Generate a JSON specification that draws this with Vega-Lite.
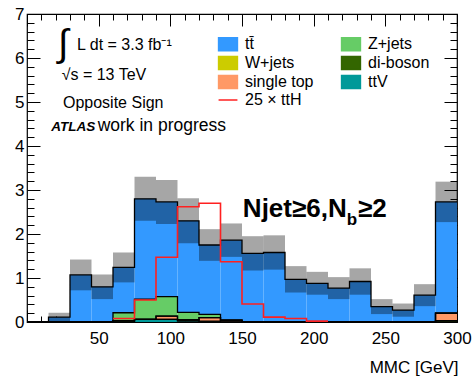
{
  "$schema": "https://vega.github.io/schema/vega-lite/v6.json",
  "autosize": {"type": "none"},
  "padding": {"left": 27, "top": 14, "right": 15, "bottom": 55},
  "width": 430,
  "height": 308,
  "background": "white",
  "config": {
    "view": {"stroke": "black", "strokeWidth": 1.2},
    "font": "Liberation Sans",
    "axis": {"labelFont": "Liberation Sans", "titleFont": "Liberation Sans", "labelColor": "black", "titleColor": "black", "tickColor": "black", "domain": false, "grid": false, "zindex": 1, "tickWidth": 1}
  },
  "datasets": {
    "bins": [
      {"lo": 0, "hi": 15, "ttbar": 0, "Zjets": 0, "Wjets": 0, "singletop": 0, "diboson": 0, "ttV": 0},
      {"lo": 15, "hi": 30, "ttbar": 0.11, "Zjets": 0, "Wjets": 0, "singletop": 0, "diboson": 0, "ttV": 0},
      {"lo": 30, "hi": 45, "ttbar": 1.07, "Zjets": 0, "Wjets": 0, "singletop": 0, "diboson": 0, "ttV": 0},
      {"lo": 45, "hi": 60, "ttbar": 0.79, "Zjets": 0, "Wjets": 0, "singletop": 0, "diboson": 0.01, "ttV": 0},
      {"lo": 60, "hi": 75, "ttbar": 1.03, "Zjets": 0.18, "Wjets": 0, "singletop": 0, "diboson": 0.03, "ttV": 0},
      {"lo": 75, "hi": 90, "ttbar": 2.28, "Zjets": 0.46, "Wjets": 0, "singletop": 0, "diboson": 0, "ttV": 0.06},
      {"lo": 90, "hi": 105, "ttbar": 2.155, "Zjets": 0.44, "Wjets": 0, "singletop": 0.075, "diboson": 0, "ttV": 0.06},
      {"lo": 105, "hi": 120, "ttbar": 2.08, "Zjets": 0.17, "Wjets": 0, "singletop": 0, "diboson": 0.03, "ttV": 0.02},
      {"lo": 120, "hi": 135, "ttbar": 1.575, "Zjets": 0.075, "Wjets": 0, "singletop": 0.08, "diboson": 0.02, "ttV": 0},
      {"lo": 135, "hi": 150, "ttbar": 1.82, "Zjets": 0, "Wjets": 0, "singletop": 0.04, "diboson": 0, "ttV": 0},
      {"lo": 150, "hi": 165, "ttbar": 1.55, "Zjets": 0, "Wjets": 0, "singletop": 0, "diboson": 0.01, "ttV": 0},
      {"lo": 165, "hi": 180, "ttbar": 1.58, "Zjets": 0, "Wjets": 0, "singletop": 0, "diboson": 0, "ttV": 0},
      {"lo": 180, "hi": 195, "ttbar": 0.97, "Zjets": 0, "Wjets": 0, "singletop": 0, "diboson": 0, "ttV": 0},
      {"lo": 195, "hi": 210, "ttbar": 0.88, "Zjets": 0, "Wjets": 0, "singletop": 0, "diboson": 0, "ttV": 0},
      {"lo": 210, "hi": 225, "ttbar": 0.77, "Zjets": 0, "Wjets": 0, "singletop": 0, "diboson": 0, "ttV": 0},
      {"lo": 225, "hi": 240, "ttbar": 0.92, "Zjets": 0, "Wjets": 0, "singletop": 0, "diboson": 0, "ttV": 0},
      {"lo": 240, "hi": 255, "ttbar": 0.35, "Zjets": 0, "Wjets": 0, "singletop": 0, "diboson": 0, "ttV": 0},
      {"lo": 255, "hi": 270, "ttbar": 0.27, "Zjets": 0, "Wjets": 0, "singletop": 0, "diboson": 0, "ttV": 0},
      {"lo": 270, "hi": 285, "ttbar": 0.61, "Zjets": 0, "Wjets": 0, "singletop": 0, "diboson": 0, "ttV": 0},
      {"lo": 285, "hi": 300, "ttbar": 2.53, "Zjets": 0, "Wjets": 0, "singletop": 0.17, "diboson": 0.03, "ttV": 0},
      {"lo": 300, "hi": 300, "ttbar": 2.53, "Zjets": 0, "Wjets": 0, "singletop": 0.17, "diboson": 0.03, "ttV": 0}
    ],
    "procs": [
      {"key": "ttV", "label": "ttV", "rank": 1},
      {"key": "diboson", "label": "di-boson", "rank": 2},
      {"key": "singletop", "label": "single top", "rank": 3},
      {"key": "Wjets", "label": "W+jets", "rank": 4},
      {"key": "Zjets", "label": "Z+jets", "rank": 5},
      {"key": "ttbar", "label": "tt\u0304", "rank": 6}
    ],
    "band": [
      {"lo": 15, "hi": 30, "low": 0.01, "high": 0.21},
      {"lo": 30, "hi": 45, "low": 0.72, "high": 1.42},
      {"lo": 45, "hi": 60, "low": 0.52, "high": 1.08},
      {"lo": 60, "hi": 75, "low": 0.90, "high": 1.58},
      {"lo": 75, "hi": 90, "low": 2.30, "high": 3.30},
      {"lo": 90, "hi": 105, "low": 2.23, "high": 3.23},
      {"lo": 105, "hi": 120, "low": 1.79, "high": 2.81},
      {"lo": 120, "hi": 135, "low": 1.39, "high": 2.11},
      {"lo": 135, "hi": 150, "low": 1.48, "high": 2.24},
      {"lo": 150, "hi": 165, "low": 1.17, "high": 1.95},
      {"lo": 165, "hi": 180, "low": 1.19, "high": 1.97},
      {"lo": 180, "hi": 195, "low": 0.67, "high": 1.27},
      {"lo": 195, "hi": 210, "low": 0.62, "high": 1.14},
      {"lo": 210, "hi": 225, "low": 0.52, "high": 1.02},
      {"lo": 225, "hi": 240, "low": 0.62, "high": 1.22},
      {"lo": 240, "hi": 255, "low": 0.18, "high": 0.52},
      {"lo": 255, "hi": 270, "low": 0.12, "high": 0.42},
      {"lo": 270, "hi": 285, "low": 0.36, "high": 0.86},
      {"lo": 285, "hi": 300, "low": 2.27, "high": 3.19}
    ],
    "tth": [
      {"lo": 60, "value": 0.08, "label": "25 × ttH"},
      {"lo": 75, "value": 0.5, "label": "25 × ttH"},
      {"lo": 90, "value": 1.47, "label": "25 × ttH"},
      {"lo": 105, "value": 2.62, "label": "25 × ttH"},
      {"lo": 120, "value": 2.70, "label": "25 × ttH"},
      {"lo": 135, "value": 1.37, "label": "25 × ttH"},
      {"lo": 150, "value": 0.41, "label": "25 × ttH"},
      {"lo": 165, "value": 0.11, "label": "25 × ttH"},
      {"lo": 180, "value": 0.08, "label": "25 × ttH"},
      {"lo": 195, "value": 0.02, "label": "25 × ttH"},
      {"lo": 210, "value": 0.02, "label": "25 × ttH"}
    ]
  },
  "resolve": {"axis": {"x": "independent", "y": "independent"}},
  "layer": [
    {
      "data": {"name": "bins"},
      "transform": [
        {"fold": ["ttV", "diboson", "singletop", "Wjets", "Zjets", "ttbar"], "as": ["key", "value"]},
        {"lookup": "key", "from": {"data": {"name": "procs"}, "key": "key", "fields": ["label", "rank"]}},
        {"stack": "value", "groupby": ["lo"], "sort": [{"field": "rank", "order": "ascending"}], "as": ["v0", "v1"]}
      ],
      "mark": {"type": "rect"},
      "encoding": {
        "x": {"field": "lo", "type": "quantitative", "scale": {"domain": [0, 300], "nice": false, "zero": false},
          "axis": {"orient": "bottom", "values": [0,10,20,30,40,50,60,70,80,90,100,110,120,130,140,150,160,170,180,190,200,210,220,230,240,250,260,270,280,290,300],
            "labelExpr": "datum.value > 0 && datum.value % 50 === 0 ? datum.label : ''",
            "tickSize": {"condition": {"test": "datum.value % 50 === 0", "value": -12}, "value": -6},
            "labelFontSize": 17, "labelPadding": 20, "labelFlush": false, "labelOverlap": false,
            "title": "MMC [GeV]", "titleAnchor": "end", "titleAlign": "right", "titleBaseline": "alphabetic", "titleX": 431, "titleY": 50,
            "titleFontSize": 17, "titleFontWeight": "normal"}},
        "x2": {"field": "hi"},
        "y": {"field": "v1", "type": "quantitative", "scale": {"domain": [0, 7], "nice": false},
          "axis": {"orient": "left", "values": [0,0.2,0.4,0.6,0.8,1,1.2,1.4,1.6,1.8,2,2.2,2.4,2.6,2.8,3,3.2,3.4,3.6,3.8,4,4.2,4.4,4.6,4.8,5,5.2,5.4,5.6,5.8,6,6.2,6.4,6.6,6.8,7],
            "labelExpr": "abs(datum.value - round(datum.value)) < 0.001 ? format(datum.value, 'd') : ''",
            "tickSize": {"condition": {"test": "abs(datum.value - round(datum.value)) < 0.001", "value": -13}, "value": -7},
            "labelFontSize": 17, "labelPadding": 16, "labelOverlap": false, "labelFlush": false, "title": null}},
        "y2": {"field": "v0"},
        "color": {"field": "label", "type": "nominal",
          "scale": {"domain": ["tt\u0304", "W+jets", "single top", "25 × ttH", "Z+jets", "di-boson", "ttV"],
                    "range": ["#3399ff", "#cccc00", "#ff9966", "#ff2020", "#66cc66", "#336600", "#009999"]},
          "legend": {"orient": "none", "legendX": 193, "legendY": 22, "columns": 2, "title": null,
            "symbolSize": 169, "labelFontSize": 16, "labelFont": "Liberation Sans", "labelColor": "black",
            "labelOffset": 9, "rowPadding": -1, "columnPadding": 24, "padding": 0,
            "encode": {"symbols": {"update": {
              "shape": [{"test": "datum.value === '25 × ttH'", "value": "M-1.45,0H1.45"}, {"value": "M-1.45,-1H1.45V1H-1.45Z"}],
              "fill": [{"test": "datum.value === '25 × ttH'", "value": "transparent"}, {"scale": "color", "field": "value"}],
              "stroke": [{"test": "datum.value === '25 × ttH'", "value": "#ff2020"}, {"value": "black"}],
              "strokeWidth": {"value": 1.5},
              "opacity": {"value": 1},
              "fillOpacity": {"value": 1}
            }}}}
        }
      }
    },
    {
      "data": {"name": "bins"},
      "transform": [
        {"fold": ["ttV", "diboson", "singletop", "Wjets", "Zjets", "ttbar"], "as": ["key", "value"]},
        {"lookup": "key", "from": {"data": {"name": "procs"}, "key": "key", "fields": ["label", "rank"]}},
        {"stack": "value", "groupby": ["lo"], "sort": [{"field": "rank", "order": "ascending"}], "as": ["v0", "v1"]}
      ],
      "mark": {"type": "line", "interpolate": "step-after", "stroke": "black", "strokeWidth": 1.3},
      "encoding": {
        "x": {"field": "lo", "type": "quantitative", "axis": null},
        "y": {"field": "v1", "type": "quantitative", "axis": null},
        "detail": {"field": "key"}
      }
    },
    {
      "data": {"name": "band"},
      "mark": {"type": "rect", "fill": "black", "fillOpacity": 0.35},
      "encoding": {
        "x": {"field": "lo", "type": "quantitative",
          "axis": {"orient": "top", "values": [0,10,20,30,40,50,60,70,80,90,100,110,120,130,140,150,160,170,180,190,200,210,220,230,240,250,260,270,280,290,300],
            "labels": false, "title": null,
            "tickSize": {"condition": {"test": "datum.value % 50 === 0", "value": -12}, "value": -6}}},
        "x2": {"field": "hi"},
        "y": {"field": "low", "type": "quantitative",
          "axis": {"orient": "right", "values": [0,0.2,0.4,0.6,0.8,1,1.2,1.4,1.6,1.8,2,2.2,2.4,2.6,2.8,3,3.2,3.4,3.6,3.8,4,4.2,4.4,4.6,4.8,5,5.2,5.4,5.6,5.8,6,6.2,6.4,6.6,6.8,7],
            "labels": false, "title": null,
            "tickSize": {"condition": {"test": "abs(datum.value - round(datum.value)) < 0.001", "value": -13}, "value": -7}}},
        "y2": {"field": "high"}
      }
    },
    {
      "data": {"name": "tth"},
      "mark": {"type": "line", "interpolate": "step-after", "strokeWidth": 1.6},
      "encoding": {
        "x": {"field": "lo", "type": "quantitative", "axis": null},
        "y": {"field": "value", "type": "quantitative", "axis": null},
        "color": {"field": "label", "type": "nominal"}
      }
    },
    {
      "data": {"values": [{}]},
      "mark": {"type": "text", "font": "Liberation Sans", "fontSize": 38, "align": "center", "baseline": "middle", "color": "black"},
      "encoding": {"x": {"datum": 25.2, "type": "quantitative", "axis": null}, "y": {"datum": 6.3, "type": "quantitative", "axis": null}, "text": {"value": "∫"}}
    },
    {
      "data": {"values": [{}]},
      "mark": {"type": "text", "font": "Liberation Sans", "fontSize": 16, "align": "left", "baseline": "alphabetic", "color": "black"},
      "encoding": {"x": {"datum": 34.9, "type": "quantitative", "axis": null}, "y": {"datum": 6.18, "type": "quantitative", "axis": null}, "text": {"value": "L dt = 3.3 fb⁻¹"}}
    },
    {
      "data": {"values": [{}]},
      "mark": {"type": "text", "font": "Liberation Sans", "fontSize": 16, "align": "left", "baseline": "alphabetic", "color": "black"},
      "encoding": {"x": {"datum": 24.2, "type": "quantitative", "axis": null}, "y": {"datum": 5.5, "type": "quantitative", "axis": null}, "text": {"value": "√s = 13 TeV"}}
    },
    {
      "data": {"values": [{}]},
      "mark": {"type": "text", "font": "Liberation Sans", "fontSize": 16, "align": "left", "baseline": "alphabetic", "color": "black"},
      "encoding": {"x": {"datum": 25.1, "type": "quantitative", "axis": null}, "y": {"datum": 4.875, "type": "quantitative", "axis": null}, "text": {"value": "Opposite Sign"}}
    },
    {
      "data": {"values": [{}]},
      "mark": {"type": "text", "font": "Liberation Sans", "fontSize": 13.5, "fontWeight": "bold", "fontStyle": "italic", "align": "left", "baseline": "alphabetic", "color": "black"},
      "encoding": {"x": {"datum": 17.0, "type": "quantitative", "axis": null}, "y": {"datum": 4.33, "type": "quantitative", "axis": null}, "text": {"value": "ATLAS"}}
    },
    {
      "data": {"values": [{}]},
      "mark": {"type": "text", "font": "Liberation Sans", "fontSize": 17.5, "align": "left", "baseline": "alphabetic", "color": "black"},
      "encoding": {"x": {"datum": 49.3, "type": "quantitative", "axis": null}, "y": {"datum": 4.33, "type": "quantitative", "axis": null}, "text": {"value": "work in progress"}}
    },
    {
      "data": {"values": [{}]},
      "mark": {"type": "text", "font": "Liberation Sans", "fontSize": 26, "fontWeight": "bold", "align": "left", "baseline": "alphabetic", "color": "black"},
      "encoding": {"x": {"datum": 150.6, "type": "quantitative", "axis": null}, "y": {"datum": 2.39, "type": "quantitative", "axis": null}, "text": {"value": "Njet≥6,N"}}
    },
    {
      "data": {"values": [{}]},
      "mark": {"type": "text", "font": "Liberation Sans", "fontSize": 17, "fontWeight": "bold", "align": "left", "baseline": "alphabetic", "color": "black"},
      "encoding": {"x": {"datum": 223.0, "type": "quantitative", "axis": null}, "y": {"datum": 2.2, "type": "quantitative", "axis": null}, "text": {"value": "b"}}
    },
    {
      "data": {"values": [{}]},
      "mark": {"type": "text", "font": "Liberation Sans", "fontSize": 26, "fontWeight": "bold", "align": "left", "baseline": "alphabetic", "color": "black"},
      "encoding": {"x": {"datum": 231.0, "type": "quantitative", "axis": null}, "y": {"datum": 2.39, "type": "quantitative", "axis": null}, "text": {"value": "≥2"}}
    }
  ]
}
